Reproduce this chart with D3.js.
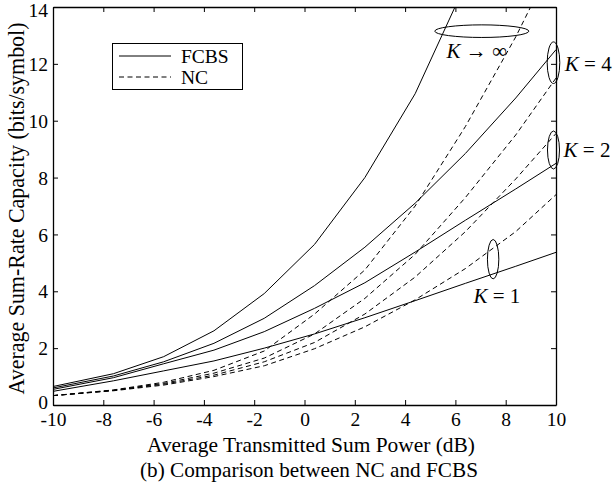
<!DOCTYPE html>
<html>
<head>
<meta charset="utf-8">
<script src="https://cdn.jsdelivr.net/npm/d3@7"></script>
<style>
  html, body { margin: 0; padding: 0; background: #fff; }
  svg { display: block; }
  text { font-family: "Liberation Serif", "Times New Roman", serif; fill: #000; }
</style>
</head>
<body>
<svg id="chart" width="614" height="486"></svg>
<script>
// ---- data ----
const powerDb = [-10, -7.6, -5.6, -3.6, -1.6, 0.4, 2.4, 4.4, 6.4, 8.4, 10];

const fcbsK1   = [0.48, 0.85, 1.20, 1.55, 2.00, 2.50, 3.07, 3.67, 4.28, 4.88, 5.37];
const fcbsK2   = [0.55, 0.96, 1.45, 1.93, 2.58, 3.40, 4.30, 5.38, 6.50, 7.60, 8.50];
const fcbsK4   = [0.60, 1.02, 1.52, 2.17, 3.05, 4.20, 5.55, 7.10, 8.85, 10.8, 12.5];
const fcbsKinf = [0.65, 1.10, 1.70, 2.61, 3.92, 5.65, 8.00, 10.95, 14.8];

const ncK1   = [0.33, 0.50, 0.70, 1.00, 1.38, 1.98, 2.75, 3.70, 4.80, 6.10, 7.40];
const ncK2   = [0.33, 0.51, 0.73, 1.05, 1.52, 2.20, 3.20, 4.50, 6.10, 7.95, 9.55];
const ncK4   = [0.33, 0.52, 0.76, 1.12, 1.65, 2.50, 3.75, 5.30, 7.30, 9.50, 11.5];
const ncKinf = [0.33, 0.53, 0.80, 1.22, 1.90, 3.20, 4.75, 7.00, 9.80, 12.95, 15.8];

const xTicks = [-10, -8, -6, -4, -2, 0, 2, 4, 6, 8, 10];
const yTicks = [0, 2, 4, 6, 8, 10, 12, 14];

const legendLabels = ["FCBS", "NC"];
const xTitle = "Average Transmitted Sum Power (dB)";
const yTitle = "Average Sum-Rate Capacity (bits/symbol)";
const caption = "(b) Comparison between NC and FCBS";

// annotation groups, anchors in data units
const groupMarks = [
  { label: "K \u2192 \u221E", cx: 7.05, cy: 13.15, rx: 47, ry: 6.3, tx: 6.85, ty: 12.2, anchor: "middle" },
  { label: "K = 4", cx: 9.9, cy: 12.04, rx: 6.3, ry: 20.8, tx: 10.35, ty: 11.75, anchor: "start" },
  { label: "K = 2", cx: 9.9, cy: 8.97, rx: 6, ry: 19, tx: 10.3, ty: 8.72, anchor: "start" },
  { label: "K = 1", cx: 7.5, cy: 5.13, rx: 5.7, ry: 19.7, tx: 7.65, ty: 3.6, anchor: "middle" }
];

// ---- layout ----
const margin = { left: 53, right: 58, top: 7, bottom: 81 };
const W = 614, H = 486;
const svg = d3.select("#chart");
const x = d3.scaleLinear().domain([-10, 10]).range([margin.left, W - margin.right]);
const y = d3.scaleLinear().domain([0, 14]).range([H - margin.bottom, margin.top]);

svg.append("defs").append("clipPath").attr("id", "clip")
  .append("rect")
  .attr("x", x(-10)).attr("y", y(14))
  .attr("width", x(10) - x(-10)).attr("height", y(0) - y(14));

const line = d3.line().x(d => x(d[0])).y(d => y(d[1]));
const DASH = "5,3.5";
const series = [
  { v: fcbsK1, dash: null }, { v: fcbsK2, dash: null },
  { v: fcbsK4, dash: null }, { v: fcbsKinf, dash: null },
  { v: ncK1, dash: DASH }, { v: ncK2, dash: DASH },
  { v: ncK4, dash: DASH }, { v: ncKinf, dash: DASH }
];
const plot = svg.append("g").attr("clip-path", "url(#clip)");
series.forEach(s => {
  plot.append("path")
    .datum(s.v.map((v, i) => [powerDb[i], v]))
    .attr("d", line)
    .attr("fill", "none")
    .attr("stroke", "#000")
    .attr("stroke-width", 1)
    .attr("stroke-dasharray", s.dash);
});

// ---- axes (inward ticks, box) ----
const fmt = d => (d < 0 ? "-" + Math.abs(d) : String(d));
const gB = svg.append("g").attr("transform", `translate(0,${y(0)})`)
  .call(d3.axisBottom(x).tickValues(xTicks).tickFormat(fmt).tickSizeInner(-5).tickSizeOuter(0).tickPadding(7));
const gL = svg.append("g").attr("transform", `translate(${x(-10)},0)`)
  .call(d3.axisLeft(y).tickValues(yTicks).tickFormat(fmt).tickSizeInner(-5).tickSizeOuter(0).tickPadding(5));
const gT = svg.append("g").attr("transform", `translate(0,${y(14)})`)
  .call(d3.axisTop(x).tickValues(xTicks).tickFormat("").tickSizeInner(-5).tickSizeOuter(0));
const gR = svg.append("g").attr("transform", `translate(${x(10)},0)`)
  .call(d3.axisRight(y).tickValues(yTicks).tickFormat("").tickSizeInner(-5).tickSizeOuter(0));
[gB, gL, gT, gR].forEach(g => {
  g.select(".domain").attr("stroke", "#000").attr("stroke-width", 1.3);
  g.selectAll(".tick line").attr("stroke", "#000").attr("stroke-width", 1);
  g.selectAll("text").attr("font-family", '"Liberation Serif", serif').attr("font-size", 19.5).attr("fill", "#000");
});
gB.selectAll(".tick text").attr("dy", "0.71em");
gL.selectAll(".tick text").attr("dy", "0.34em");
// keep the top label inside the picture and the "0" just above "-10", as in the reference
gL.selectAll(".tick text").filter(d => d === 14).attr("dy", "0.5em");
gL.selectAll(".tick text").filter(d => d === 0).attr("dy", "0.2em");

// ---- titles ----
svg.append("text").attr("x", 311).attr("y", 451.5)
  .attr("text-anchor", "middle").attr("font-size", 22)
  .attr("textLength", 328).attr("lengthAdjust", "spacingAndGlyphs").text(xTitle);
svg.append("text").attr("x", 309).attr("y", 476.5)
  .attr("text-anchor", "middle").attr("font-size", 22)
  .attr("textLength", 338).attr("lengthAdjust", "spacingAndGlyphs").text(caption);
svg.append("text").attr("transform", `translate(24,208.5) rotate(-90)`)
  .attr("text-anchor", "middle").attr("font-size", 23)
  .attr("textLength", 372).attr("lengthAdjust", "spacingAndGlyphs").text(yTitle);

// ---- legend ----
const lg = svg.append("g");
lg.append("rect").attr("x", 112.5).attr("y", 43.5).attr("width", 130).attr("height", 46)
  .attr("fill", "#fff").attr("stroke", "#000").attr("stroke-width", 1);
legendLabels.forEach((lab, i) => {
  const yy = 56 + i * 21;
  lg.append("line").attr("x1", 119).attr("x2", 171).attr("y1", yy).attr("y2", yy)
    .attr("stroke", "#000").attr("stroke-width", 1)
    .attr("stroke-dasharray", i === 1 ? DASH : null);
  lg.append("text").attr("x", 181).attr("y", yy + 7).attr("font-size", 19.5).text(lab);
});

// ---- group annotations ----
groupMarks.forEach(m => {
  svg.append("ellipse").attr("cx", x(m.cx)).attr("cy", y(m.cy))
    .attr("rx", m.rx).attr("ry", m.ry)
    .attr("fill", "none").attr("stroke", "#000").attr("stroke-width", 1);
  const t = svg.append("text").attr("x", x(m.tx)).attr("y", y(m.ty))
    .attr("text-anchor", m.anchor).attr("font-size", 21);
  const parts = m.label.split("K");
  t.append("tspan").attr("font-style", "italic").text("K");
  t.append("tspan").text(parts[1]);
});
</script>
</body>
</html>
